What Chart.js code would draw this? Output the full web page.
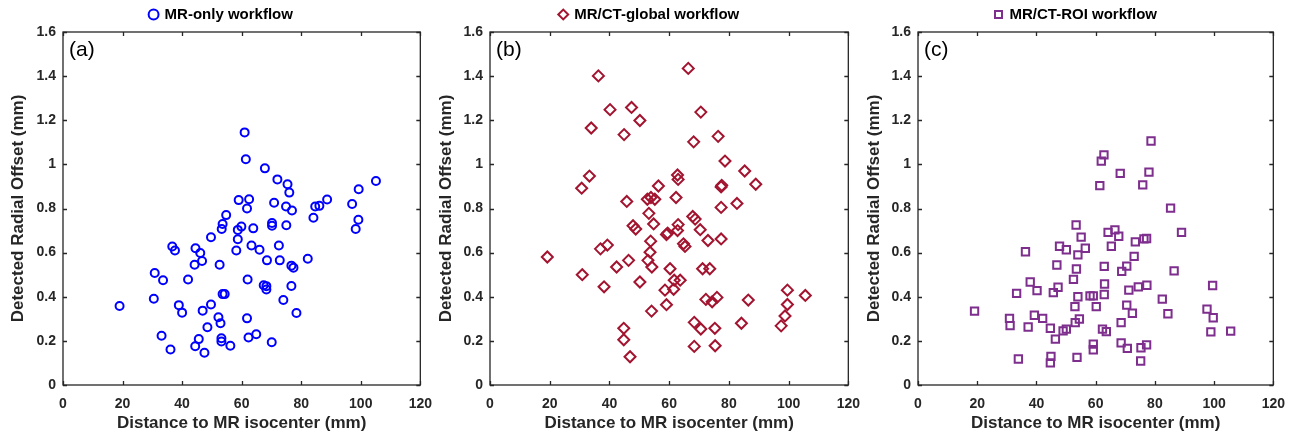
<!DOCTYPE html>
<html><head><meta charset="utf-8">
<script src="https://cdn.jsdelivr.net/npm/chart.js@4.4.1/dist/chart.umd.min.js"></script>
<style>
html,body{margin:0;padding:0;background:#fff;width:1298px;height:439px;overflow:hidden;position:relative}
.p{position:absolute;top:0;height:439px}
</style></head><body>
<div class="p" style="left:0;width:443px"><canvas id="ca" width="443" height="439"></canvas></div>
<div class="p" style="left:428px;width:443px"><canvas id="cb" width="443" height="439"></canvas></div>
<div class="p" style="left:856px;width:440px"><canvas id="cc" width="440" height="439"></canvas></div>
<script>
// ---- data ----
const xTicks = [0, 20, 40, 60, 80, 100, 120];
const yTicks = [0, 0.2, 0.4, 0.6, 0.8, 1.0, 1.2, 1.4, 1.6];
const yTickLabels = ['0', '0.2', '0.4', '0.6', '0.8', '1', '1.2', '1.4', '1.6'];

const mrOnlyDistance = [19.0,30.8,30.5,33.6,33.1,36.1,36.7,37.6,38.9,40.0,42.0,44.5,46.1,46.7,44.2,46.9,49.7,49.7,45.6,44.4,47.5,48.5,52.2,52.9,52.6,53.6,54.3,53.2,53.2,56.2,53.6,53.3,54.8,58.7,58.2,58.7,59.9,59.0,61.0,61.4,62.5,61.8,63.9,63.3,62.0,61.8,62.3,64.9,66.0,67.8,68.5,67.4,68.3,68.3,70.2,70.2,70.9,70.1,72.0,72.5,72.8,74.0,75.0,74.9,75.4,76.0,76.9,76.7,77.4,76.7,78.4,82.2,84.1,84.7,86.1,88.7,97.1,99.2,98.3,99.3,105.1];
const mrOnlyOffset = [0.358,0.508,0.391,0.475,0.223,0.161,0.628,0.610,0.362,0.328,0.478,0.620,0.598,0.562,0.545,0.337,0.365,0.670,0.208,0.176,0.146,0.262,0.307,0.280,0.545,0.412,0.412,0.212,0.197,0.178,0.730,0.707,0.770,0.661,0.610,0.703,0.718,0.838,1.145,1.023,0.842,0.800,0.710,0.632,0.478,0.302,0.215,0.230,0.613,0.982,0.565,0.452,0.448,0.433,0.734,0.722,0.826,0.194,0.932,0.632,0.565,0.385,0.724,0.809,0.910,0.872,0.791,0.541,0.532,0.449,0.326,0.572,0.758,0.809,0.812,0.841,0.820,0.749,0.707,0.887,0.925];

const globalDistance = [19.2,30.7,30.9,33.3,33.9,36.3,37.0,39.3,38.2,40.2,42.4,44.9,45.8,46.4,44.8,44.8,46.9,47.4,47.9,48.8,50.2,50.2,52.7,53.9,55.2,53.2,54.8,53.8,53.6,52.9,54.2,54.1,56.4,58.6,59.1,59.1,59.5,60.3,61.7,63.7,61.5,62.3,62.8,63.0,63.0,62.8,64.8,65.3,66.4,68.2,67.9,68.7,70.4,70.6,71.2,73.6,73.0,72.3,74.4,76.0,68.4,70.6,75.3,68.4,75.4,76.4,77.4,77.6,77.4,77.4,78.7,82.7,84.2,85.3,86.5,89.0,97.5,98.8,99.6,99.6,105.6];
const globalOffset = [0.580,0.892,0.500,0.947,1.165,1.401,0.617,0.634,0.445,1.248,0.535,1.135,0.832,0.565,0.257,0.205,0.128,1.258,0.722,0.707,1.199,0.467,0.842,0.850,0.842,0.778,0.730,0.652,0.602,0.565,0.535,0.335,0.902,0.430,0.364,0.682,0.688,0.527,0.475,0.475,0.434,0.850,0.952,0.932,0.727,0.700,0.640,0.628,1.435,1.102,0.764,0.752,0.704,1.237,0.527,0.527,0.655,0.388,0.377,0.397,0.284,0.254,0.257,0.175,0.178,1.127,0.898,0.905,0.805,0.662,1.015,0.823,0.280,0.970,0.385,0.910,0.268,0.313,0.365,0.430,0.406];

const roiDistance = [19.1,30.9,31.1,33.3,33.9,36.3,37.2,37.9,39.3,40.2,42.1,44.7,44.9,44.7,45.7,46.4,46.9,47.3,47.8,49.0,50.1,50.1,52.5,53.0,53.1,54.5,53.4,53.5,53.7,54.0,54.0,55.1,56.5,58.1,59.2,59.2,59.2,60.2,61.4,61.9,62.8,62.9,63.0,62.9,62.3,63.6,64.2,65.3,66.5,67.8,68.3,68.8,68.6,68.6,70.7,70.5,70.5,71.2,72.4,73.0,73.4,74.4,75.3,75.2,75.9,76.3,77.2,77.3,77.2,78.0,78.7,82.5,84.4,85.3,86.5,89.0,97.6,99.7,98.9,99.5,105.6];
const roiOffset = [0.335,0.302,0.269,0.415,0.118,0.604,0.263,0.467,0.316,0.428,0.302,0.257,0.130,0.100,0.419,0.208,0.544,0.443,0.629,0.245,0.253,0.613,0.479,0.355,0.283,0.299,0.725,0.526,0.125,0.590,0.400,0.670,0.620,0.404,0.404,0.185,0.160,0.355,0.904,1.015,1.043,0.538,0.458,0.410,0.253,0.242,0.692,0.629,0.703,0.674,0.959,0.515,0.283,0.191,0.166,0.539,0.362,0.430,0.325,0.583,0.649,0.445,0.169,0.109,0.907,0.662,0.664,0.452,0.182,0.965,1.106,0.389,0.323,0.802,0.517,0.692,0.344,0.305,0.241,0.451,0.244];

// ---- drawing ----
const FONT = "'Liberation Sans', Arial, Helvetica, sans-serif";
const AXIS = '#262626';

const framePlugin = {
  id: 'frame',
  afterDraw(chart, args, opts) {
    const {ctx, chartArea: a, scales: {x, y}} = chart;
    ctx.save();
    ctx.strokeStyle = AXIS;
    ctx.lineWidth = 1.3;
    ctx.strokeRect(a.left, a.top, a.right - a.left, a.bottom - a.top);
    ctx.beginPath();
    const L = 4;
    x.ticks.forEach(t => {
      const px = Math.round(x.getPixelForValue(t.value)) + 0.5;
      ctx.moveTo(px, a.bottom); ctx.lineTo(px, a.bottom - L);
      ctx.moveTo(px, a.top); ctx.lineTo(px, a.top + L);
    });
    y.ticks.forEach(t => {
      const py = Math.round(y.getPixelForValue(t.value)) + 0.5;
      ctx.moveTo(a.left, py); ctx.lineTo(a.left + L, py);
      ctx.moveTo(a.right, py); ctx.lineTo(a.right - L, py);
    });
    ctx.stroke();
    ctx.fillStyle = '#000';
    ctx.font = '21px ' + FONT;
    ctx.textBaseline = 'middle';
    ctx.textAlign = 'left';
    ctx.fillText(opts.tag, a.left + 6, a.top + 18);
    ctx.restore();
  }
};

function makePanel(id, xs, ys, label, tag, shape, radius, color, leftW, padRight) {
  const pts = xs.map((v, i) => ({x: v, y: ys[i]}));
  return new Chart(document.getElementById(id), {
    type: 'scatter',
    data: {datasets: [{
      label: label, data: pts,
      pointStyle: shape, pointRadius: radius, pointHoverRadius: radius,
      borderColor: color, backgroundColor: 'rgba(0,0,0,0)',
      pointBorderWidth: 2, borderWidth: 2
    }]},
    options: {
      responsive: false, animation: false, devicePixelRatio: 1,
      layout: {padding: {top: 0, right: padRight, left: 0, bottom: 0}},
      plugins: {
        tooltip: {enabled: false},
        frame: {tag: tag},
        legend: {
          display: true, position: 'top',
          labels: {usePointStyle: true, boxHeight: 7, boxWidth: 7, padding: 7,
                   color: '#000', font: {family: FONT, size: 15, weight: 'bold'}}
        }
      },
      scales: {
        x: {
          type: 'linear', min: 0, max: 120,
          afterBuildTicks: s => { s.ticks = xTicks.map(v => ({value: v})); },
          afterFit: s => { s.height = 54; },
          grid: {display: false, drawTicks: false},
          border: {display: false},
          ticks: {padding: 11, color: AXIS, font: {family: FONT, size: 14, weight: 'bold'}, maxRotation: 0},
          title: {display: true, text: 'Distance to MR isocenter (mm)', color: AXIS,
                  font: {family: FONT, size: 17, weight: 'bold'}, padding: {top: 2, bottom: 5}}
        },
        y: {
          type: 'linear', min: 0, max: 1.6,
          afterBuildTicks: s => { s.ticks = yTicks.map(v => ({value: v})); },
          afterFit: s => { s.width = leftW; },
          grid: {display: false, drawTicks: false},
          border: {display: false},
          ticks: {padding: 7, color: AXIS, font: {family: FONT, size: 14, weight: 'bold'},
                  callback: (v, i) => yTickLabels[i]},
          title: {display: true, text: 'Detected Radial Offset (mm)', color: AXIS,
                  font: {family: FONT, size: 17, weight: 'bold'}, padding: {top: 8, bottom: 4}}
        }
      }
    },
    plugins: [framePlugin]
  });
}

makePanel('ca', mrOnlyDistance, mrOnlyOffset, 'MR-only workflow', '(a)', 'circle', 4, '#0000FF', 63, 0);
makePanel('cb', globalDistance, globalOffset, 'MR/CT-global workflow', '(b)', 'rectRot', 5.5, '#A2142F', 62, 0);
makePanel('cc', roiDistance, roiOffset, 'MR/CT-ROI workflow', '(c)', 'rect', 5.2, '#7E2F8E', 62, 0);
</script>
</body></html>
